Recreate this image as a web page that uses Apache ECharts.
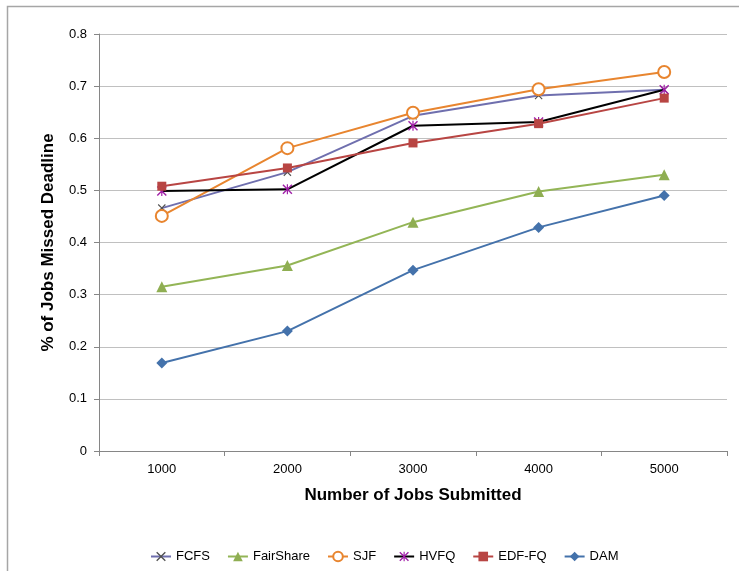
<!DOCTYPE html>
<html>
<head>
<meta charset="utf-8">
<script src="https://cdn.jsdelivr.net/npm/echarts@6/dist/echarts.min.js"></script>
<style>
  html, body { margin: 0; padding: 0; background: #fff; }
  #chart { width: 739px; height: 571px; }
</style>
</head>
<body>
<div id="chart"></div>
<script>
// Number of jobs submitted (x categories)
const categories = ['1000', '2000', '3000', '4000', '5000'];

// Fraction of jobs that missed their deadline, per scheduler
const fcfs      = [0.466, 0.535, 0.643, 0.682, 0.693];
const fairShare = [0.315, 0.356, 0.439, 0.498, 0.530];
const sjf       = [0.451, 0.581, 0.649, 0.694, 0.727];
const hvfq      = [0.499, 0.502, 0.624, 0.631, 0.693];
const edfFq     = [0.508, 0.543, 0.591, 0.628, 0.677];
const dam       = [0.169, 0.230, 0.347, 0.429, 0.490];

// Y axis range / step
const yMin = 0, yMax = 0.8, yStep = 0.1;

// Marker shapes
const crossPath = 'path://M0,1L1,0L5,4L9,0L10,1L6,5L10,9L9,10L5,6L1,10L0,9L4,5Z';
const starPath  = 'path://M0,1L1,0L5,4L9,0L10,1L6,5L10,9L9,10L5,6L1,10L0,9L4,5Z M4.4,0L5.6,0L5.6,10L4.4,10Z';

const font = 'Liberation Sans, Arial, sans-serif';

function lineSeries(name, data, lineColor, symbol, size, itemStyle) {
  return {
    name, type: 'line', data,
    symbol, symbolSize: size,
    showAllSymbol: true,
    lineStyle: { color: lineColor, width: 2 },
    itemStyle,
    emphasis: { disabled: true },
    z: 3
  };
}

const chart = echarts.init(document.getElementById('chart'), null, { renderer: 'canvas' });
chart.setOption({
  animation: false,
  backgroundColor: '#ffffff',
  textStyle: { fontFamily: font },
  grid: { left: 99, right: 12, top: 34, bottom: 120, containLabel: false },
  graphic: [{
    type: 'rect', silent: true, z: -1,
    shape: { x: 7.5, y: 6.5, width: 800, height: 700 },
    style: { fill: 'none', stroke: '#a6a6a6', lineWidth: 1.5 }
  }],
  legend: {
    left: 145, top: 545,
    itemWidth: 20, itemHeight: 12, itemGap: 17,
    textStyle: { fontSize: 13, color: '#000', fontFamily: font },
    data: ['FCFS', 'FairShare', 'SJF', 'HVFQ', 'EDF-FQ', 'DAM']
  },
  xAxis: {
    type: 'category', data: categories, boundaryGap: true,
    name: 'Number of Jobs Submitted', nameLocation: 'middle', nameGap: 36,
    nameTextStyle: { fontSize: 17, fontWeight: 'bold', color: '#000', fontFamily: font },
    axisLine: { lineStyle: { color: '#868686', width: 1 } },
    axisTick: { show: true, alignWithLabel: false, length: 5, lineStyle: { color: '#868686' } },
    axisLabel: { fontSize: 13, color: '#000', margin: 12, fontFamily: font },
    splitLine: { show: false }
  },
  yAxis: {
    type: 'value', min: yMin, max: yMax, interval: yStep,
    name: '% of Jobs Missed Deadline', nameLocation: 'middle', nameGap: 42,
    nameTextStyle: { fontSize: 17, fontWeight: 'bold', color: '#000', fontFamily: font },
    axisLine: { show: true, lineStyle: { color: '#868686', width: 1 } },
    axisTick: { show: true, length: 5, lineStyle: { color: '#868686' } },
    axisLabel: { fontSize: 13, color: '#000', margin: 12, fontFamily: font,
      formatter: v => String(Math.round(v * 10) / 10) },
    splitLine: { show: true, lineStyle: { color: '#c0c0c0', width: 1 } }
  },
  series: [
    lineSeries('FCFS', fcfs, '#6f6fae', crossPath, 8, { color: '#505050' }),
    lineSeries('FairShare', fairShare, '#93b556', 'triangle', 11, { color: '#8fae52' }),
    lineSeries('SJF', sjf, '#e8852f', 'emptyCircle', 12, { color: '#e8852f', borderColor: '#e8852f', borderWidth: 2 }),
    lineSeries('HVFQ', hvfq, '#000000', starPath, 10, { color: '#a020a8' }),
    lineSeries('EDF-FQ', edfFq, '#b84543', 'rect', 9, { color: '#b84543' }),
    lineSeries('DAM', dam, '#4472ab', 'diamond', 11, { color: '#4472ab' })
  ]
});
</script>
</body>
</html>
